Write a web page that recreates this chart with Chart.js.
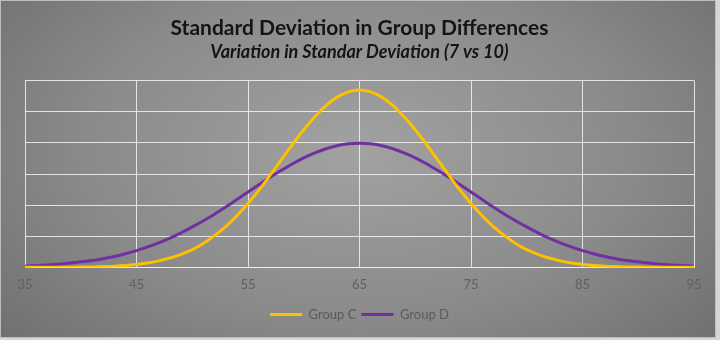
<!DOCTYPE html>
<html>
<head>
<meta charset="utf-8">
<script src="https://cdn.jsdelivr.net/npm/chart.js@4"></script>
<style>
    html, body { margin: 0; padding: 0; background: #d6d6d6; }
    #wrap {
        position: absolute; left: 0; top: 0;
        width: 714px; height: 336px;
        border: 1px solid #bdbdbd;
        background: radial-gradient(ellipse 70% 90% at 50% 45%, #a2a2a2 0%, #8a8a8a 55%, #6c6c6c 100%);
    }
    canvas { display: block; }
</style>
</head>
<body>
<div id="wrap"><canvas id="chart" width="714" height="336"></canvas></div>
<script>
    // x values (score)
    const scores = [
        35, 36, 37, 38, 39, 40, 41, 42, 43, 44,
        45, 46, 47, 48, 49, 50, 51, 52, 53, 54,
        55, 56, 57, 58, 59, 60, 61, 62, 63, 64,
        65, 66, 67, 68, 69, 70, 71, 72, 73, 74,
        75, 76, 77, 78, 79, 80, 81, 82, 83, 84,
        85, 86, 87, 88, 89, 90, 91, 92, 93, 94, 95
    ];

    // Group C (sd 7)
    const groupC = [
        0.00001, 0.00001, 0.00002, 0.00003, 0.00006, 0.0001, 0.00016, 0.00026, 0.00041, 0.00063,
        0.00096, 0.0014, 0.0021, 0.0030, 0.0042, 0.0057, 0.0077, 0.0102, 0.0131, 0.0166,
        0.0205, 0.0249, 0.0297, 0.0346, 0.0395, 0.0442, 0.0484, 0.0520, 0.0547, 0.0564,
        0.0570, 0.0564, 0.0547, 0.0520, 0.0484, 0.0442, 0.0395, 0.0346, 0.0297, 0.0249,
        0.0205, 0.0166, 0.0131, 0.0102, 0.0077, 0.0057, 0.0042, 0.0030, 0.0021, 0.0014,
        0.00096, 0.00063, 0.00041, 0.00026, 0.00016, 0.0001, 0.00006, 0.00003, 0.00002, 0.00001, 0.00001
    ];

    // Group D (sd 10)
    const groupD = [
        0.0004, 0.0006, 0.0008, 0.0010, 0.0014, 0.0018, 0.0022, 0.0028, 0.0035, 0.0044,
        0.0054, 0.0066, 0.0079, 0.0094, 0.0111, 0.0130, 0.0150, 0.0171, 0.0194, 0.0218,
        0.0242, 0.0266, 0.0290, 0.0312, 0.0333, 0.0352, 0.0368, 0.0381, 0.0391, 0.0397,
        0.0399, 0.0397, 0.0391, 0.0381, 0.0368, 0.0352, 0.0333, 0.0312, 0.0290, 0.0266,
        0.0242, 0.0218, 0.0194, 0.0171, 0.0150, 0.0130, 0.0111, 0.0094, 0.0079, 0.0066,
        0.0054, 0.0044, 0.0035, 0.0028, 0.0022, 0.0018, 0.0014, 0.0010, 0.0008, 0.0006, 0.0004
    ];

    const xTicks = [35, 45, 55, 65, 75, 85, 95];

    const titleText = 'Standard Deviation in Group Differences';
    const subtitleText = 'Variation in Standar Deviation (7 vs 10)';

    function toPoints(ys) {
        return scores.map((x, i) => ({ x: x, y: ys[i] }));
    }

    const gridColor = 'rgba(238,238,238,0.9)';

    new Chart(document.getElementById('chart').getContext('2d'), {
        type: 'line',
        data: {
            datasets: [
                {
                    label: 'Group C',
                    data: toPoints(groupC),
                    borderColor: '#FFC000',
                    backgroundColor: '#FFC000',
                    borderWidth: 3,
                    pointRadius: 0,
                    tension: 0.3,
                    fill: false
                },
                {
                    label: 'Group D',
                    data: toPoints(groupD),
                    borderColor: '#7030A0',
                    backgroundColor: '#7030A0',
                    borderWidth: 3,
                    pointRadius: 0,
                    tension: 0.3,
                    fill: false
                }
            ]
        },
        options: {
            responsive: false,
            animation: false,
            layout: { padding: { left: 24, right: 21, top: 6, bottom: 6 } },
            scales: {
                x: {
                    type: 'linear',
                    min: 35,
                    max: 95,
                    afterBuildTicks: function (axis) {
                        axis.ticks = xTicks.map(v => ({ value: v }));
                    },
                    ticks: {
                        color: '#606060',
                        font: { family: 'Lato', size: 13 },
                        padding: 10,
                        maxRotation: 0
                    },
                    grid: { color: gridColor, drawTicks: false, lineWidth: 1 },
                    border: { color: gridColor }
                },
                y: {
                    min: 0,
                    max: 0.06,
                    ticks: { display: false, stepSize: 0.01 },
                    grid: { color: gridColor, drawTicks: false, lineWidth: 1 },
                    border: { display: false }
                }
            },
            plugins: {
                title: {
                    display: true,
                    text: titleText,
                    color: '#141414',
                    font: { family: 'Lato', size: 21, weight: 'bold', lineHeight: 1.0 },
                    padding: { top: 11, bottom: 1 }
                },
                subtitle: {
                    display: true,
                    text: subtitleText,
                    color: '#141414',
                    font: { family: 'Lato', size: 18, weight: 'bold', style: 'italic' },
                    padding: { top: 1, bottom: 18 }
                },
                legend: {
                    position: 'bottom',
                    labels: {
                        usePointStyle: true,
                        pointStyle: 'line',
                        pointStyleWidth: 32,
                        color: '#5a5a5a',
                        font: { family: 'Lato', size: 13 },
                        padding: 5
                    }
                },
                tooltip: { enabled: false }
            }
        }
    });
</script>
</body>
</html>
